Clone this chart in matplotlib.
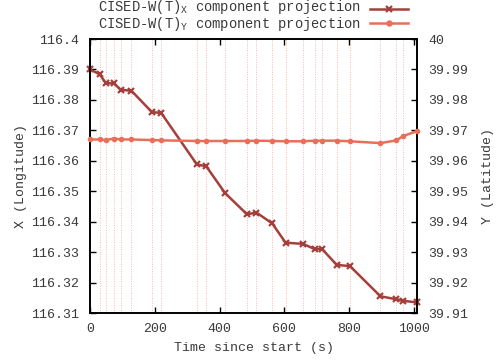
import matplotlib
matplotlib.use("Agg")
import matplotlib.pyplot as plt
from matplotlib.lines import Line2D
from matplotlib.ticker import FixedLocator, FuncFormatter

plt.rcParams['font.family'] = ['Liberation Mono', 'DejaVu Sans Mono']
plt.rcParams['mathtext.fontset'] = 'custom'
plt.rcParams['mathtext.rm'] = 'Liberation Mono'
plt.rcParams['mathtext.it'] = 'Liberation Mono'

# Data
times = [0, 30, 49, 74, 95, 128, 191, 220, 330, 359, 417, 485, 514, 563,
         604, 658, 694, 717, 762, 803, 897, 946, 967, 1009]
lon = [116.3900, 116.3884, 116.3855, 116.3854, 116.3833, 116.3830, 116.3760,
       116.3757, 116.3588, 116.3582, 116.3494, 116.3424, 116.3430, 116.3394,
       116.3331, 116.3327, 116.3310, 116.3310, 116.3258, 116.3254, 116.3155,
       116.3145, 116.3140, 116.3135]
lat = [39.9670, 39.9670, 39.9668, 39.9673, 39.9670, 39.9670, 39.9668,
       39.9667, 39.9665, 39.9665, 39.9665, 39.9665, 39.9666, 39.9665,
       39.9664, 39.9664, 39.9666, 39.9666, 39.9666, 39.9664, 39.9658,
       39.9667, 39.9681, 39.9697]
x_ticks = [0, 200, 400, 600, 800, 1000]
lon_ticks = [116.31, 116.32, 116.33, 116.34, 116.35, 116.36, 116.37, 116.38, 116.39, 116.4]
lat_ticks = [39.91, 39.92, 39.93, 39.94, 39.95, 39.96, 39.97, 39.98, 39.99, 40.0]
label_x = "CISED-W(T)$_{\\mathrm{X}}$ component projection"
label_y = "CISED-W(T)$_{\\mathrm{Y}}$ component projection"

c_x = '#a4403b'
c_y = '#e8705a'
c_grid = '#f4b8b8'
c_txt = '#3a3a3a'
fs = 9.5
fs_leg = 9.9

fig = plt.figure(figsize=(4.99, 3.61), dpi=100)
ax = fig.add_axes([90/499, 48/361, (417-90)/499, (313-39)/361])
ax2 = ax.twinx()

for t in times:
    ax.axvline(t, color=c_grid, lw=0.7, ls=(0, (1, 1.5)), zorder=0)

ax.plot(times, lon, color=c_x, lw=1.8, marker='x', ms=5, mew=1.6, zorder=3, clip_on=False)
ax2.plot(times, lat, color=c_y, lw=1.8, marker='o', ms=3, zorder=3, clip_on=False)

ax.set_xlim(0, 1010)
ax.set_ylim(116.31, 116.4)
ax2.set_ylim(39.91, 40.0)

fmt = FuncFormatter(lambda v, p: ('%.2f' % v).rstrip('0').rstrip('.'))
ax.xaxis.set_major_locator(FixedLocator(x_ticks))
ax.yaxis.set_major_locator(FixedLocator(lon_ticks))
ax2.yaxis.set_major_locator(FixedLocator(lat_ticks))
ax.yaxis.set_major_formatter(fmt)
ax2.yaxis.set_major_formatter(fmt)

ax.tick_params(axis='x', direction='in', top=True, length=4, width=1,
               labelsize=fs, labelcolor=c_txt, pad=7)
ax.tick_params(axis='y', direction='in', left=True, right=False, length=4, width=1,
               labelsize=fs, labelcolor=c_txt, pad=8)
ax2.tick_params(axis='y', direction='in', length=4, width=1,
                labelsize=fs, labelcolor=c_txt, pad=8)

for a in (ax, ax2):
    for s in a.spines.values():
        s.set_linewidth(1.2)

ax.set_xlabel("Time since start (s)", fontsize=fs, color=c_txt, labelpad=5)
ax.set_ylabel("X (Longitude)", fontsize=fs, color=c_txt, labelpad=3)
ax2.set_ylabel("Y (Latitude)", fontsize=fs, color=c_txt, labelpad=10, rotation=90)

# Legend (manual, gnuplot-like key above the plot)
fig.text(361/499, 1 - 7.5/361, label_x, ha='right', va='center', fontsize=fs_leg, color=c_txt)
fig.text(361/499, 1 - 24/361, label_y, ha='right', va='center', fontsize=fs_leg, color=c_txt)
for yy, col, mk, ms in ((8.5, c_x, 'x', 5), (23, c_y, 'o', 3)):
    yf = 1 - yy/361
    fig.add_artist(Line2D([370/499, 408/499], [yf, yf], color=col, lw=1.8,
                          transform=fig.transFigure))
    fig.add_artist(Line2D([389/499], [yf], color=col, marker=mk, ms=ms, mew=1.6,
                          transform=fig.transFigure))

fig.savefig("out.png", dpi=100)
